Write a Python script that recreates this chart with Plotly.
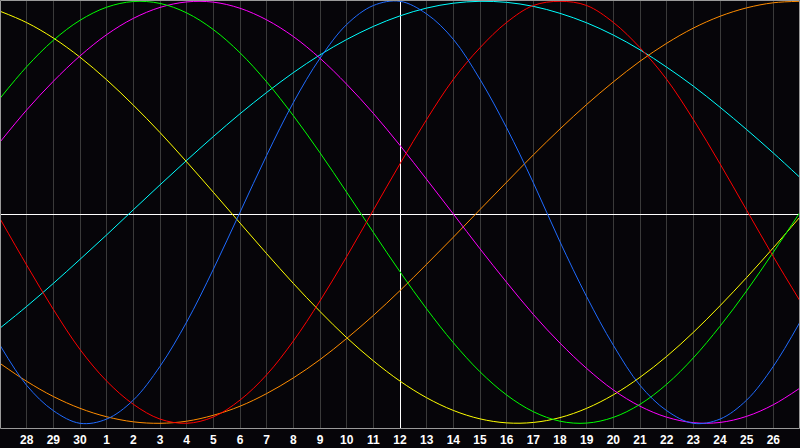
import plotly.graph_objects as go

# Day index across the 30-day window (x axis)
days = list(range(31))

# Tick positions and their calendar-day labels
tick_days = list(range(1, 30))
tick_labels = ["28", "29", "30", "1", "2", "3", "4", "5", "6", "7", "8", "9", "10",
               "11", "12", "13", "14", "15", "16", "17", "18", "19", "20", "21",
               "22", "23", "24", "25", "26"]

# Cycle values (range -1 .. 1), one per day
physical = [-0.63, -0.82, -0.94, -1.00, -0.98, -0.89, -0.73, -0.52, -0.27, 0.00,
            0.27, 0.52, 0.73, 0.89, 0.98, 1.00, 0.94, 0.82, 0.63, 0.40,
            0.14, -0.14, -0.40, -0.63, -0.82, -0.94, -1.00, -0.98, -0.89, -0.73, -0.52]
emotional = [-0.03, -0.25, -0.46, -0.65, -0.80, -0.91, -0.98, -1.00, -0.97, -0.89,
             -0.77, -0.61, -0.42, -0.21, 0.01, 0.23, 0.44, 0.63, 0.78, 0.90,
             0.98, 1.00, 0.98, 0.90, 0.78, 0.63, 0.44, 0.23, 0.01, -0.21, -0.42]
intellectual = [0.54, 0.69, 0.815, 0.91, 0.972, 0.999, 0.99, 0.945, 0.866, 0.756,
                0.618, 0.458, 0.282, 0.095, -0.095, -0.282, -0.458, -0.618, -0.756, -0.866,
                -0.945, -0.99, -0.999, -0.972, -0.91, -0.815, -0.69, -0.54, -0.372, -0.189, 0.0]
intuitive = [0.333, 0.485, 0.621, 0.741, 0.842, 0.919, 0.971, 0.997, 0.996, 0.967,
             0.912, 0.833, 0.730, 0.607, 0.469, 0.317, 0.156, -0.008, -0.173, -0.332,
             -0.484, -0.620, -0.740, -0.842, -0.919, -0.971, -0.997, -0.996, -0.967, -0.912, -0.833]
aesthetic = [0.953, 0.899, 0.826, 0.735, 0.628, 0.508, 0.378, 0.239, 0.095, -0.051,
             -0.196, -0.337, -0.470, -0.594, -0.704, -0.800, -0.879, -0.939, -0.979, -0.998,
             -0.996, -0.973, -0.929, -0.865, -0.782, -0.683, -0.569, -0.443, -0.309, -0.168, -0.022]
awareness = [-0.716, -0.801, -0.873, -0.929, -0.969, -0.993, -1.000, -0.990, -0.962, -0.919,
             -0.859, -0.785, -0.698, -0.598, -0.489, -0.371, -0.246, -0.118, 0.013, 0.143,
             0.272, 0.395, 0.511, 0.618, 0.716, 0.801, 0.873, 0.929, 0.969, 0.993, 1.000]
spiritual = [-0.549, -0.446, -0.337, -0.223, -0.107, 0.012, 0.130, 0.246, 0.359, 0.467,
             0.568, 0.662, 0.746, 0.819, 0.881, 0.931, 0.968, 0.991, 1.000, 0.995,
             0.976, 0.943, 0.898, 0.840, 0.770, 0.688, 0.598, 0.498, 0.392, 0.281, 0.165]

series = [
    ("Spiritual", spiritual, "#00ffff"),
    ("Awareness", awareness, "#ff8c00"),
    ("Aesthetic", aesthetic, "#ffff00"),
    ("Intuitive", intuitive, "#ff00ff"),
    ("Intellectual", intellectual, "#00ff00"),
    ("Emotional", emotional, "#ff0000"),
    ("Physical", physical, "#1f6bff"),
]

# Today marker (center day)
today_day = 15

fig = go.Figure()
for name, vals, col in series:
    fig.add_trace(go.Scatter(
        x=days, y=vals, name=name, mode="lines",
        line=dict(color=col, width=1, shape="spline"),
        hoverinfo="skip",
    ))

BG = "#060509"
ymax = 1.00616
ymin = -1.02702

fig.update_layout(
    width=800, height=448,
    margin=dict(l=0, r=0, t=0, b=19, autoexpand=False),
    paper_bgcolor=BG, plot_bgcolor=BG,
    showlegend=False,
    xaxis=dict(
        range=[0, 30], showgrid=True, gridcolor="#3a3a3a", gridwidth=1,
        tickvals=tick_days, ticktext=tick_labels, ticks="",
        ticklabelstandoff=2,
        tickfont=dict(family="Liberation Sans", size=12, color="white", weight="bold"),
        zeroline=False, showline=False, fixedrange=True, automargin=False,
        layer="below traces",
    ),
    yaxis=dict(
        range=[ymin, ymax], showgrid=False, zeroline=False,
        showticklabels=False, showline=False, fixedrange=True, automargin=False,
    ),
)
fig.add_shape(type="line", xref="x", yref="y", x0=today_day + 0.01875, x1=today_day + 0.01875,
              y0=ymin, y1=ymax, line=dict(color="white", width=1), layer="between")
fig.add_shape(type="line", xref="x", yref="y", x0=0, x1=30, y0=-0.0105, y1=-0.0105,
              line=dict(color="white", width=1), layer="between")
fig.add_shape(type="rect", xref="paper", yref="paper",
              x0=0.5 / 800, x1=799.5 / 800, y0=0.5 / 429, y1=1 - 0.5 / 429,
              line=dict(color="#9a9a9a", width=1), layer="above")

fig.write_html(
    "out.html",
    config={"displayModeBar": False},
    post_script="document.body.style.margin='0';document.body.style.overflow='hidden';",
)
